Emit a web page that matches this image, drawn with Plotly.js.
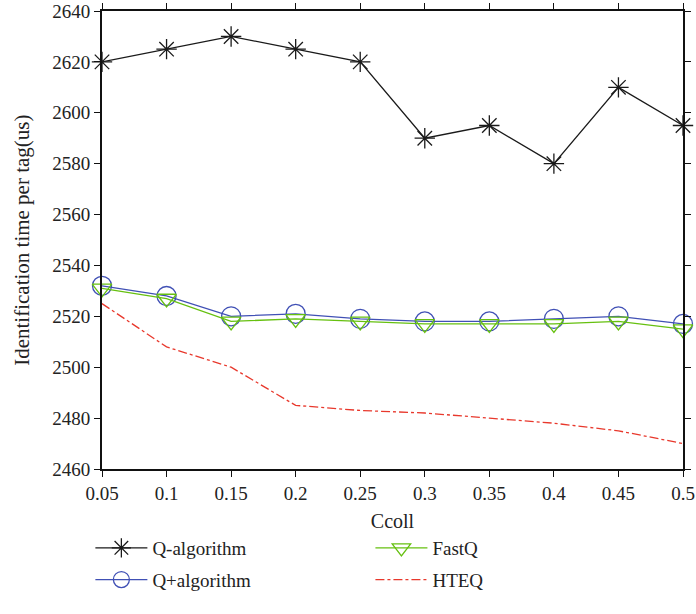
<!DOCTYPE html>
<html>
<head>
<meta charset="utf-8">
<script src="https://cdn.plot.ly/plotly-3.0.1.min.js"></script>
<style>html,body{margin:0;padding:0;background:#fff;}#chart{width:696px;height:614px;}</style>
</head>
<body>
<div id="chart"></div>
<script>
const ccoll = [0.05, 0.1, 0.15, 0.2, 0.25, 0.3, 0.35, 0.4, 0.45, 0.5];
const qAlgorithm = [2620, 2625, 2630, 2625, 2620, 2590, 2595, 2580, 2610, 2595];
const qPlusAlgorithm = [2532, 2528, 2520, 2521, 2519, 2518, 2518, 2519, 2520, 2517];
const fastQ = [2531, 2527, 2518, 2519, 2518, 2517, 2517, 2517, 2518, 2515];
const hteq = [2525, 2508, 2500, 2485, 2483, 2482, 2480, 2478, 2475, 2470];

const fam = '"Liberation Serif", "DejaVu Serif", serif';
const txt = '#222';

const traces = [
  {x: ccoll, y: qAlgorithm, name: 'Q-algorithm', mode: 'lines+markers', legend: 'legend', legendgroup: 'a',
   line: {color: '#1a1a1a', width: 1.3},
   marker: {symbol: 'asterisk-open', size: 17, line: {color: '#1a1a1a', width: 1.3}},
   cliponaxis: false},
  {x: ccoll, y: qPlusAlgorithm, name: 'Q+algorithm', mode: 'lines+markers', legend: 'legend', legendgroup: 'b',
   line: {color: '#4050b5', width: 1.3},
   marker: {symbol: 'circle-open', size: 19, color: '#4050b5', line: {color: '#4050b5', width: 1.3}},
   cliponaxis: false},
  {x: ccoll, y: fastQ, name: 'FastQ', mode: 'lines+markers', legend: 'legend2', legendgroup: 'c',
   line: {color: '#66c010', width: 1.3},
   marker: {symbol: 'triangle-down-open', size: 17, color: '#66c010', line: {color: '#66c010', width: 1.3}},
   cliponaxis: false},
  {x: ccoll, y: hteq, name: 'HTEQ', mode: 'lines', legend: 'legend2', legendgroup: 'd',
   line: {color: '#e8382c', width: 1.3, dash: 'dashdot'},
   cliponaxis: false}
];

const legendBase = {
  orientation: 'v', yanchor: 'top', xanchor: 'left',
  itemwidth: 52, tracegroupgap: 4,
  font: {family: fam, size: 19, color: txt},
  bgcolor: 'rgba(0,0,0,0)', traceorder: 'grouped'
};

const layout = {
  width: 696, height: 614,
  margin: {l: 102, r: 13, t: 11, b: 145, autoexpand: false},
  paper_bgcolor: '#fff', plot_bgcolor: '#fff',
  font: {family: fam, size: 19, color: txt},
  showlegend: true,
  legend: Object.assign({}, legendBase, {x: -0.02, y: -0.131}),
  legend2: Object.assign({}, legendBase, {x: 0.462, y: -0.131}),
  xaxis: {range: [0.05, 0.5], dtick: 0.05, tick0: 0.05, showgrid: false, zeroline: false,
          showline: true, linecolor: '#111', linewidth: 2, mirror: 'ticks',
          ticks: 'outside', ticklen: 6, tickcolor: '#111', tickwidth: 1,
          title: {text: 'Ccoll', font: {family: fam, size: 20, color: txt}, standoff: 11},
          tickfont: {family: fam, size: 19, color: txt}},
  yaxis: {range: [2460, 2640], dtick: 20, showgrid: false, zeroline: false,
          showline: true, linecolor: '#111', linewidth: 2, mirror: 'ticks',
          ticks: 'outside', ticklen: 6, tickcolor: '#111', tickwidth: 1,
          tickfont: {family: fam, size: 19, color: txt}},
  annotations: [{
    text: 'Identification time per tag(us)', textangle: -90,
    xref: 'paper', yref: 'paper', x: -0.138, y: 0.5, xanchor: 'center', yanchor: 'middle',
    showarrow: false, font: {family: fam, size: 21, color: txt}
  }]
};

Plotly.newPlot('chart', traces, layout, {displayModeBar: false, staticPlot: true});
</script>
</body>
</html>
